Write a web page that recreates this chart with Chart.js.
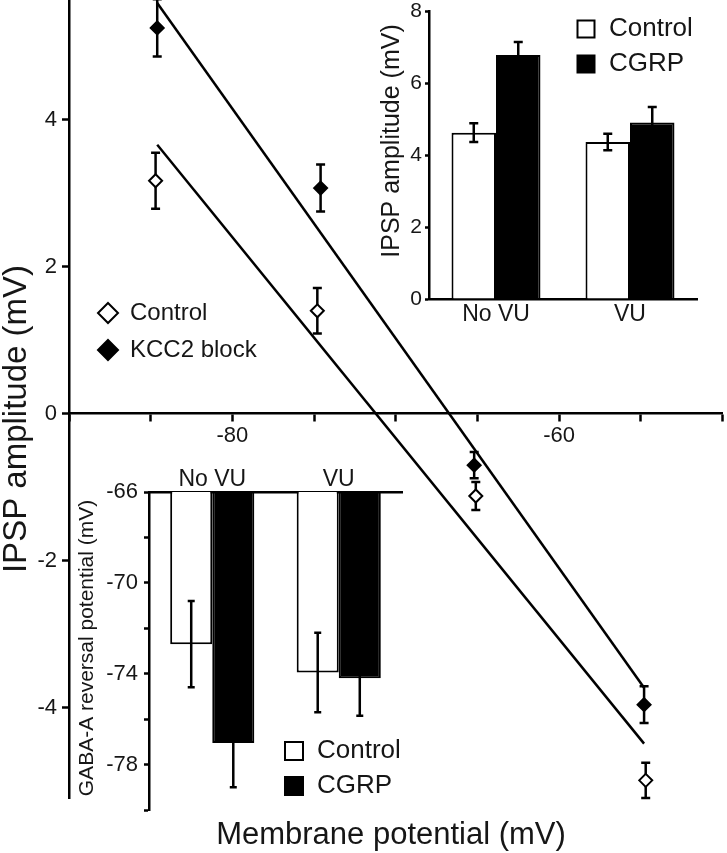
<!DOCTYPE html>
<html>
<head>
<meta charset="utf-8">
<script src="https://cdn.jsdelivr.net/npm/chart.js@4.4.0/dist/chart.umd.min.js"></script>
<style>
  html, body { margin: 0; padding: 0; background: #fff; }
  #wrap { position: relative; width: 727px; height: 853px; overflow: hidden; }
  canvas { position: absolute; }
  #main { left: 0; top: 0; }
  #inset1 { left: 370px; top: 0; }
  #inset2 { left: 60px; top: 440px; }
</style>
</head>
<body>
<div id="wrap">
  <canvas id="main" width="727" height="853"></canvas>
  <canvas id="inset1" width="357" height="340"></canvas>
  <canvas id="inset2" width="350" height="380"></canvas>
</div>
<script>
// main panel: IPSP amplitude vs membrane potential
const ctrlV = [-84.7, -74.8, -65.1, -54.7];
const ctrlAmp = [3.17, 1.40, -1.12, -4.99];
const ctrlSem = [0.38, 0.31, 0.19, 0.24];
const kccV = [-84.6, -74.6, -65.2, -54.8];
const kccAmp = [5.25, 3.07, -0.70, -3.96];
const kccSem = [0.39, 0.32, 0.18, 0.25];
const fitV = [-84.6, -54.8];
const ctrlFit = [3.66, -4.49];
const kccFit = [5.59, -3.73];
const vTicks = [-90, -85, -80, -75, -70, -65, -60, -55, -50];
const vLabels = [-80, -60];
const ampTicks = [-4, -2, 0, 2, 4];

// top-right inset: IPSP amplitude
const groups = ['No VU', 'VU'];
const ipspCtrl = [4.62, 4.36];
const ipspCtrlSem = [0.26, 0.23];
const ipspCgrp = [6.78, 4.90];
const ipspCgrpSem = [0.36, 0.43];
const ipspTicks = [0, 2, 4, 6, 8];

// bottom-left inset: GABA-A reversal potential
const egabaCtrl = [-72.7, -73.95];
const egabaCtrlSem = [1.9, 1.75];
const egabaCgrp = [-77.05, -74.2];
const egabaCgrpSem = [1.95, 1.65];
const egabaTicks = [-80, -78, -76, -74, -72, -70, -68, -66];
const egabaLabels = [-78, -74, -70, -66];

const ink = '#000';
const textInk = '#161616';
const family = '"Liberation Sans", Arial, Helvetica, sans-serif';
Chart.defaults.font.family = family;
Chart.defaults.color = textInk;
Chart.defaults.animation = false;

// force the axis box size and drop the edge padding chart.js adds for labels
function fixAxis(size) {
    return s => {
        if (s.isHorizontal()) s.height = size; else s.width = size;
        s.paddingTop = s.paddingBottom = s.paddingLeft = s.paddingRight = 0;
    };
}

function setTicks(values) {
    return s => { s.ticks = values.map(v => ({ value: v })); };
}

function errorPlugin(sets, cap, width, under) {
    const draw = chart => {
        const ctx = chart.ctx;
        const y = chart.scales.y;
        ctx.save();
        ctx.strokeStyle = ink;
        ctx.lineWidth = width;
        sets.forEach(({ ds, mean, sem }) => {
            chart.getDatasetMeta(ds).data.forEach((el, i) => {
                const top = y.getPixelForValue(mean[i] + sem[i]);
                const bot = y.getPixelForValue(mean[i] - sem[i]);
                ctx.beginPath();
                ctx.moveTo(el.x, top); ctx.lineTo(el.x, bot);
                ctx.moveTo(el.x - cap, top); ctx.lineTo(el.x + cap, top);
                ctx.moveTo(el.x - cap, bot); ctx.lineTo(el.x + cap, bot);
                ctx.stroke();
            });
        });
        ctx.restore();
    };
    return {
        id: 'errorBars',
        beforeDatasetsDraw(chart) { if (under) draw(chart); },
        afterDatasetsDraw(chart) { if (!under) draw(chart); }
    };
}

function legendPlugin(o) {
    return {
        id: 'boxLegend',
        afterDraw(chart) {
            const ctx = chart.ctx;
            o.items.forEach((idx, k) => {
                const ds = chart.data.datasets[idx];
                const cy = o.y + k * o.gap;
                const r = o.size / 2;
                ctx.save();
                ctx.fillStyle = ds.backgroundColor;
                ctx.strokeStyle = ink;
                ctx.lineWidth = 2;
                ctx.beginPath();
                if (o.shape === 'diamond') {
                    ctx.moveTo(o.x, cy - r);
                    ctx.lineTo(o.x + r, cy);
                    ctx.lineTo(o.x, cy + r);
                    ctx.lineTo(o.x - r, cy);
                    ctx.closePath();
                } else {
                    ctx.rect(o.x - r, cy - r, o.size, o.size);
                }
                ctx.fill();
                ctx.stroke();
                ctx.fillStyle = textInk;
                ctx.font = `${o.font}px ${family}`;
                ctx.textBaseline = 'middle';
                ctx.fillText(ds.label, o.textX, cy);
                ctx.restore();
            });
        }
    };
}

function textPlugin(items) {
    return {
        id: 'axisTitles',
        afterDraw(chart) {
            const ctx = chart.ctx;
            items.forEach(t => {
                ctx.save();
                ctx.translate(t.x, t.y);
                ctx.rotate(t.rot || 0);
                ctx.font = `${t.size}px ${family}`;
                ctx.fillStyle = textInk;
                ctx.textAlign = 'center';
                ctx.textBaseline = 'middle';
                ctx.fillText(t.text, 0, 0);
                ctx.restore();
            });
        }
    };
}

const axisLine = { color: ink, width: 2.5 };
const noTips = { legend: { display: false }, tooltip: { enabled: false } };

// Main scatter with regression lines
new Chart(document.getElementById('main'), {
    type: 'scatter',
    data: {
        datasets: [
            {
                label: 'Control',
                data: ctrlV.map((v, i) => ({ x: v, y: ctrlAmp[i] })),
                pointStyle: 'rectRot', pointRadius: 6.5,
                backgroundColor: '#fff', borderColor: ink, borderWidth: 2
            },
            {
                label: 'KCC2 block',
                data: kccV.map((v, i) => ({ x: v, y: kccAmp[i] })),
                pointStyle: 'rectRot', pointRadius: 6.5,
                backgroundColor: '#000', borderColor: ink, borderWidth: 2
            },
            {
                label: 'Control fit',
                data: fitV.map((v, i) => ({ x: v, y: ctrlFit[i] })),
                showLine: true, pointRadius: 0, borderColor: ink, borderWidth: 2.5
            },
            {
                label: 'KCC2 fit',
                data: fitV.map((v, i) => ({ x: v, y: kccFit[i] })),
                showLine: true, pointRadius: 0, borderColor: ink, borderWidth: 2.5
            }
        ]
    },
    options: {
        responsive: false,
        layout: { autoPadding: false, padding: { top: 0, right: 0, bottom: 55, left: 0 } },
        plugins: noTips,
        scales: {
            x: {
                type: 'linear', min: -90, max: -50, position: { y: 0 },
                afterBuildTicks: setTicks(vTicks),
                ticks: {
                    callback: v => vLabels.includes(v) ? String(v) : '',
                    font: { size: 22, lineHeight: 1 }, padding: 4.5, maxRotation: 0, autoSkip: false
                },
                grid: { drawOnChartArea: false, drawTicks: true, tickLength: 7, tickWidth: 2.5, color: ink },
                border: axisLine
            },
            y: {
                min: -5.23, max: 5.63,
                afterBuildTicks: setTicks(ampTicks),
                ticks: { font: { size: 22, lineHeight: 1 }, padding: 5 },
                grid: { drawOnChartArea: false, drawTicks: true, tickLength: 7, tickWidth: 2.5, color: ink },
                border: axisLine,
                afterFit: fixAxis(69)
            }
        }
    },
    plugins: [
        errorPlugin([
            { ds: 0, mean: ctrlAmp, sem: ctrlSem },
            { ds: 1, mean: kccAmp, sem: kccSem }
        ], 4.5, 2.5, true),
        legendPlugin({ items: [0, 1], shape: 'diamond', x: 108, y: 313, gap: 37, size: 20, textX: 130, font: 24 }),
        textPlugin([
            { text: 'IPSP amplitude (mV)', x: 17, y: 419, rot: -Math.PI / 2, size: 33 },
            { text: 'Membrane potential (mV)', x: 391, y: 835, size: 31 }
        ])
    ]
});

// Top-right inset: IPSP amplitude bars
new Chart(document.getElementById('inset1'), {
    type: 'bar',
    data: {
        labels: groups,
        datasets: [
            { label: 'Control', data: ipspCtrl, backgroundColor: '#fff', borderColor: ink, borderWidth: 2 },
            { label: 'CGRP', data: ipspCgrp, backgroundColor: '#000', borderColor: ink, borderWidth: 2 }
        ]
    },
    options: {
        responsive: false,
        layout: { autoPadding: false, padding: { top: 11, right: 30, bottom: 0, left: 0 } },
        datasets: { bar: { barPercentage: 1, categoryPercentage: 0.664 } },
        plugins: noTips,
        scales: {
            x: {
                grid: { display: false, drawTicks: false },
                border: axisLine,
                ticks: { font: { size: 23, lineHeight: 1 }, padding: 4.5 },
                afterFit: fixAxis(41)
            },
            y: {
                min: 0, max: 8,
                afterBuildTicks: setTicks(ipspTicks),
                ticks: { font: { size: 21, lineHeight: 1 }, padding: 3 },
                grid: { drawOnChartArea: false, drawTicks: true, tickLength: 4, tickWidth: 2.5, color: ink },
                border: axisLine,
                afterFit: fixAxis(59)
            }
        }
    },
    plugins: [
        errorPlugin([
            { ds: 0, mean: ipspCtrl, sem: ipspCtrlSem },
            { ds: 1, mean: ipspCgrp, sem: ipspCgrpSem }
        ], 4.5, 2.5, false),
        legendPlugin({ items: [0, 1], shape: 'square', x: 216, y: 29, gap: 35, size: 17, textX: 239, font: 26 }),
        textPlugin([
            { text: 'IPSP amplitude (mV)', x: 22, y: 141, rot: -Math.PI / 2, size: 25 }
        ])
    ]
});

// Bottom-left inset: GABA-A reversal potential bars hanging from -66
new Chart(document.getElementById('inset2'), {
    type: 'bar',
    data: {
        labels: groups,
        datasets: [
            { label: 'Control', data: egabaCtrl, backgroundColor: '#fff', borderColor: ink, borderWidth: 2 },
            { label: 'CGRP', data: egabaCgrp, backgroundColor: '#000', borderColor: ink, borderWidth: 2 }
        ]
    },
    options: {
        responsive: false,
        layout: { autoPadding: false, padding: { top: 0, right: 8, bottom: 10, left: 0 } },
        datasets: { bar: { barPercentage: 1, categoryPercentage: 0.665 } },
        plugins: noTips,
        scales: {
            x: {
                position: 'top',
                grid: { display: false, drawTicks: false },
                border: axisLine,
                ticks: { font: { size: 23, lineHeight: 1 }, padding: 1 },
                afterFit: fixAxis(52)
            },
            y: {
                min: -80, max: -66,
                afterBuildTicks: setTicks(egabaTicks),
                ticks: {
                    callback: v => egabaLabels.includes(v) ? String(v) : '',
                    font: { size: 22, lineHeight: 1 }, padding: 6
                },
                grid: { drawOnChartArea: false, drawTicks: true, tickLength: 5, tickWidth: 2.5, color: ink },
                border: axisLine,
                afterFit: fixAxis(89)
            }
        }
    },
    plugins: [
        errorPlugin([
            { ds: 0, mean: egabaCtrl, sem: egabaCtrlSem },
            { ds: 1, mean: egabaCgrp, sem: egabaCgrpSem }
        ], 3.5, 2.5, false),
        legendPlugin({ items: [0, 1], shape: 'square', x: 234, y: 311, gap: 35, size: 18, textX: 257, font: 26 }),
        textPlugin([
            { text: 'GABA-A reversal potential (mV)', x: 27, y: 208, rot: -Math.PI / 2, size: 21 }
        ])
    ]
});
</script>
</body>
</html>
